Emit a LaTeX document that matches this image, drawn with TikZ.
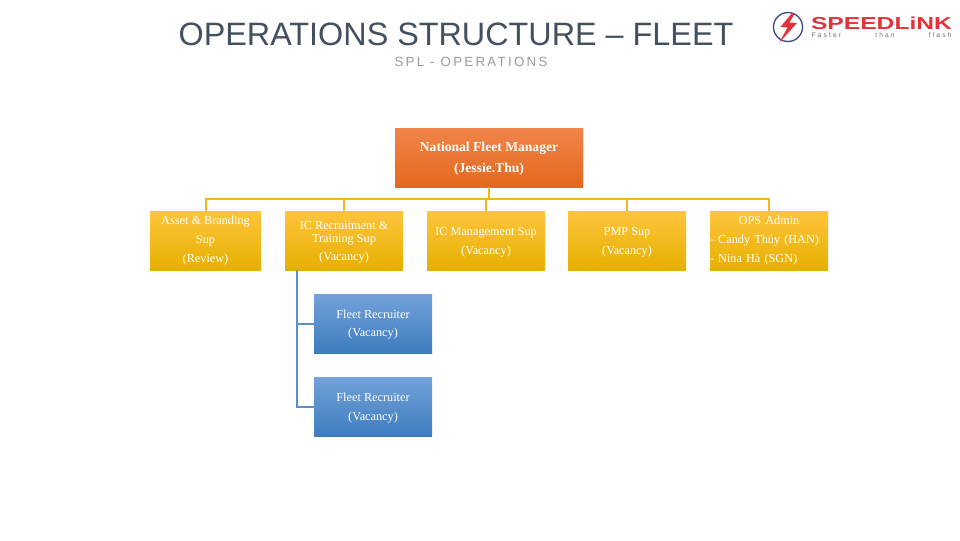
\documentclass[tikz,border=0pt]{standalone}
\usepackage{fontspec}
\setmainfont{Liberation Serif}
\newfontfamily\headfont{Liberation Sans}
\newfontfamily\subfont[LetterSpace=17]{Liberation Sans}
\newfontfamily\tagfont[LetterSpace=32]{Liberation Sans}
\usetikzlibrary{positioning}
\newcommand{\topgap}[1]{\rule{0pt}{#1}}
\definecolor{titlegray}{HTML}{44505F}
\definecolor{subgray}{HTML}{9A9A9A}
\definecolor{taggray}{HTML}{6E6E6E}
\definecolor{linkyellow}{HTML}{F2B816}
\definecolor{linkblue}{HTML}{5B8FC5}
\definecolor{logored}{HTML}{E5313A}
\definecolor{logoblue}{HTML}{3D4A86}
\definecolor{orangetop}{HTML}{F0844A}
\definecolor{orangemid}{HTML}{F37426}
\definecolor{orangelow}{HTML}{E4681C}
\definecolor{yellowtop}{HTML}{FFC43C}
\definecolor{yellowmid}{HTML}{FFC000}
\definecolor{yellowlow}{HTML}{E5B000}
\definecolor{bluetop}{HTML}{72A2DA}
\definecolor{bluemid}{HTML}{548DD4}
\definecolor{bluelow}{HTML}{3E7CBE}

\begin{document}
\begin{tikzpicture}[x=.75pt,y=-.75pt,node distance=105.75pt,text=white]
  \tikzstyle{manager}=[minimum width=141pt,minimum height=44.25pt,inner sep=0pt,align=center,
    top color=orangetop,middle color=orangemid,bottom color=orangelow,font=\bfseries\fontsize{10.2}{15.75}\selectfont]
  \tikzstyle{supbox}=[minimum width=88.5pt,minimum height=44.25pt,inner sep=0pt,align=center,
    top color=yellowtop,middle color=yellowmid,bottom color=yellowlow,font=\fontsize{9.2}{14}\selectfont]
  \tikzstyle{recruiter}=[supbox,top color=bluetop,middle color=bluemid,bottom color=bluelow]
  \tikzstyle{yellowlink}=[draw=linkyellow,line width=1.5pt]
  \tikzstyle{bluelink}=[draw=linkblue,line width=1.5pt]
\useasboundingbox (0,0) rectangle (960,540);
% heading
\node (title) at (456,34) {\headfont\color{titlegray}\fontsize{24.26}{28}\selectfont OPERATIONS STRUCTURE – FLEET};
\node (subtitle) at (471,61.5) {\subfont\color{subgray}\fontsize{10}{12}\selectfont SPL - OPERATIONS};
% logo
\draw[logoblue,line width=1pt] (788,27) circle (14.5);
\fill[logored] (792,13) -- (780.5,27) -- (787.5,27.5) -- (779,43) -- (797,23) -- (789.5,22.5) -- (795,13) -- cycle;
\node[inner sep=0pt] (brand) at (881.5,23) {\headfont\bfseries\color{logored}\fontsize{13}{13}\selectfont\scalebox{1.42}[1]{SPEEDLiNK}};
\node[inner sep=0pt] (tagline) at (881.5,35) {\tagfont\color{taggray}\fontsize{5}{6}\selectfont\makebox[105pt]{Faster\hfill than\hfill flash}};
% boxes
\node[manager] (national) at (489,157.5) {\topgap{8.4pt}National Fleet Manager\\(Jessie.Thu)};
\node[supbox,minimum width=83.25pt] (asset) at (205.5,240.5) {Asset \& Branding\\Sup\\(Review)};
\node[supbox,font=\fontsize{9.2}{9.75}\selectfont] (recruit) [right of=asset,node distance=103.9pt] {\topgap{9.3pt}IC Recruitment \&\\Training Sup\\[3.75pt](Vacancy)};
\node[supbox] (manage) [right of=recruit,node distance=106.5pt] {\topgap{8.4pt}IC Management Sup\\(Vacancy)};
\node[supbox] (pmp) [right of=manage] {\topgap{8.4pt}PMP Sup\\(Vacancy)};
\node[supbox,text width=88.5pt,align=left] (admin) [right of=pmp,node distance=106.5pt] {\makebox[\linewidth][c]{OPS Admin}\\- Candy Thúy (HAN)\\- Nina Hà (SGN)};
\node[recruiter] (fleetA) [below of=recruit,node distance=62.25pt,xshift=21.75pt] {\topgap{8pt}Fleet Recruiter\\(Vacancy)};
\node[recruiter] (fleetB) [below of=fleetA,node distance=62.5pt] {\topgap{8pt}Fleet Recruiter\\(Vacancy)};
\coordinate[below of=national,node distance=31.1pt] (bus);
% links
\draw[yellowlink] (national.south) -- (bus);
\draw[yellowlink] (bus) -| (asset.north);
\draw[yellowlink] (bus) -| (recruit.north);
\draw[yellowlink] (bus) -| (manage.north);
\draw[yellowlink] (bus) -| (pmp.north);
\draw[yellowlink] (bus) -| (admin.north);
\draw[bluelink] ([xshift=-35.25pt]recruit.south) |- (fleetA.west);
\draw[bluelink] ([xshift=-35.25pt]recruit.south) |- (fleetB.west);
\end{tikzpicture}
\end{document}
